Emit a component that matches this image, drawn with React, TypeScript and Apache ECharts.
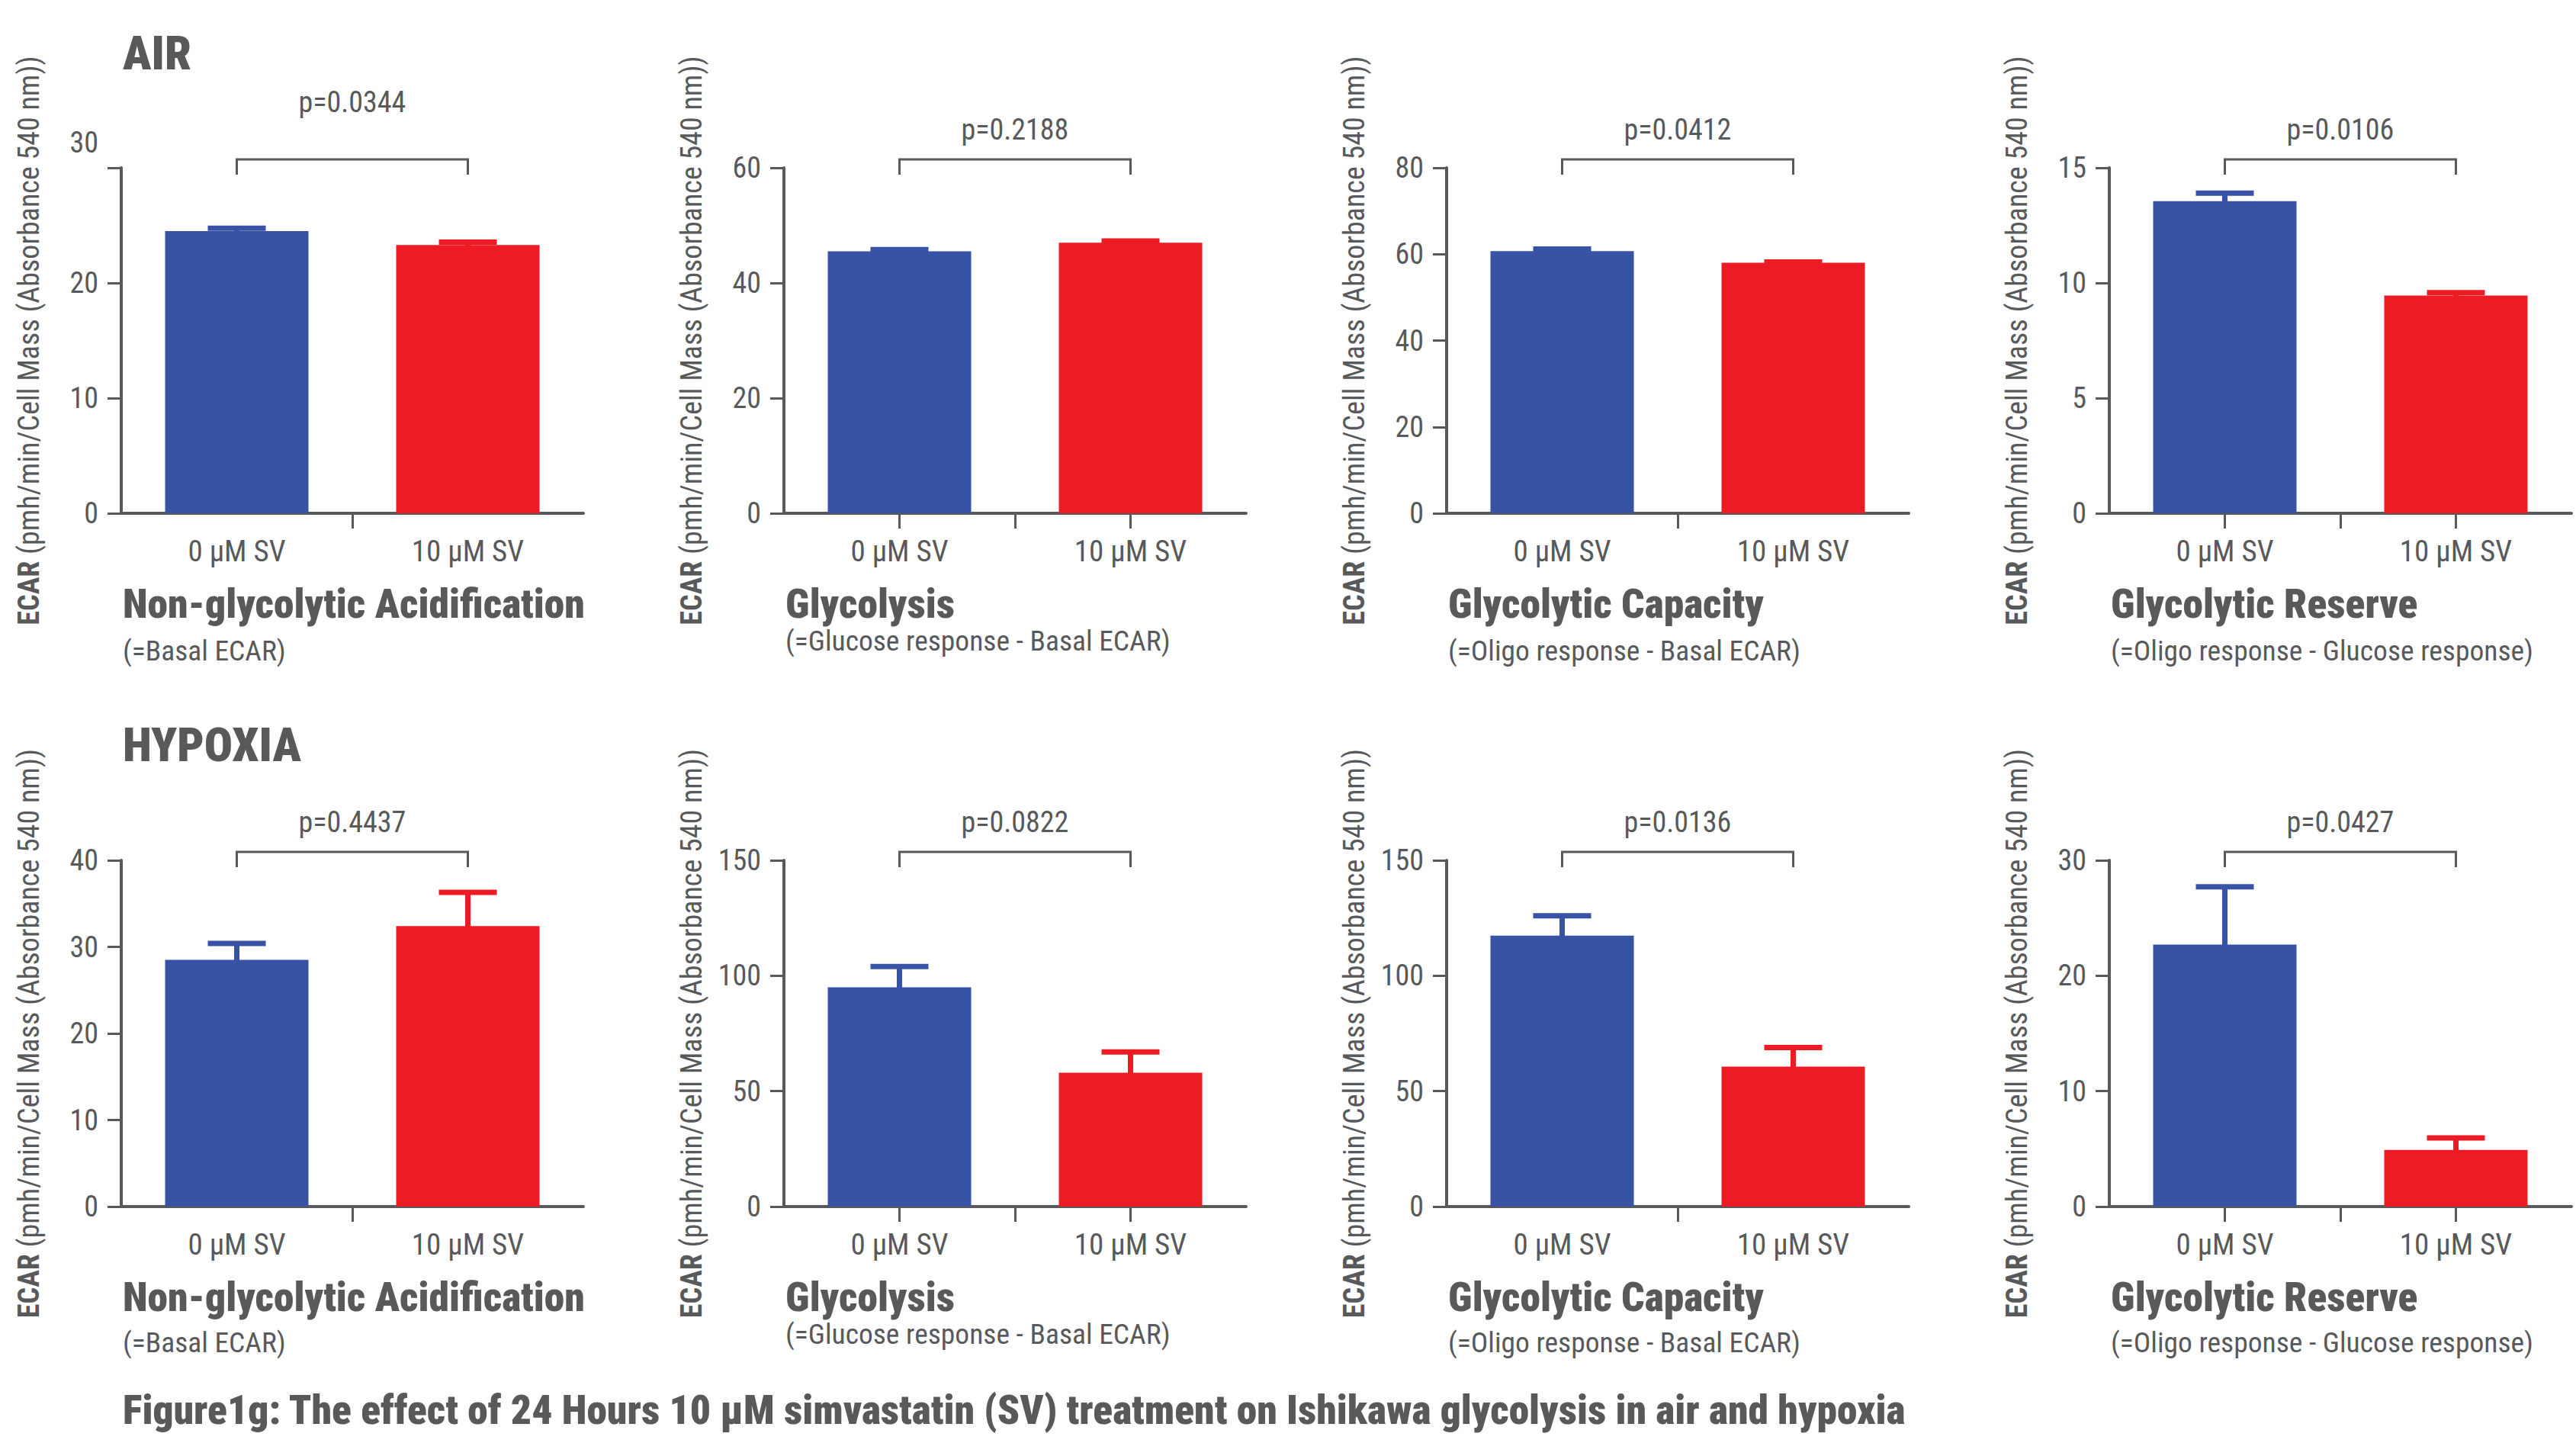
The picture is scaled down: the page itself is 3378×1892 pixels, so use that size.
import React, { useEffect, useRef } from 'react';
import * as echarts from 'echarts';

// ---------- data ----------
const categories = ['0 µM SV', '10 µM SV'];
const conditionLabels = ['AIR', 'HYPOXIA'];
const panelTitles = ['Non-glycolytic Acidification', 'Glycolysis', 'Glycolytic Capacity', 'Glycolytic Reserve'];
const panelSubtitles = [
  '(=Basal ECAR)',
  '(=Glucose response - Basal ECAR)',
  '(=Oligo response - Basal ECAR)',
  '(=Oligo response - Glucose response)',
];
const yAxisTitleBold = 'ECAR';
const yAxisTitleRest = ' (pmh/min/Cell Mass (Absorbance 540 nm))';
const caption = 'Figure1g: The effect of 24 Hours 10 µM simvastatin (SV) treatment on Ishikawa glycolysis in air and hypoxia';

// AIR row: [0 µM SV, 10 µM SV] per panel
const airMeans = [[24.5, 23.3], [45.5, 47.0], [60.7, 58.0], [13.55, 9.45]];
const airErrors = [[0.25, 0.25], [0.3, 0.28], [0.5, 0.2], [0.35, 0.13]];
const airPValues = ['p=0.0344', 'p=0.2188', 'p=0.0412', 'p=0.0106'];
const airYMax = [30, 60, 80, 15];
const airYInterval = [10, 20, 20, 5];

// HYPOXIA row
const hypoxiaMeans = [[28.5, 32.4], [95.0, 58.0], [117.4, 60.6], [22.7, 4.9]];
const hypoxiaErrors = [[1.9, 3.9], [9.0, 9.0], [8.6, 8.3], [5.0, 1.05]];
const hypoxiaPValues = ['p=0.4437', 'p=0.0822', 'p=0.0136', 'p=0.0427'];
const hypoxiaYMax = [40, 150, 150, 30];
const hypoxiaYInterval = [10, 50, 50, 10];

// ---------- styling / layout ----------
const FONT = "'Liberation Sans Narrow', 'Arial Narrow', 'Roboto Condensed', 'DejaVu Sans Condensed', 'Liberation Sans', sans-serif";
const GRAY = '#58595B';
const BAR_COLORS = ['#3953A4', '#ED1C24'];
const COL_LEFT = [159, 1028, 1897, 2766];
const ROW_TOP = [220, 1128];
const GRID_W = 606;
const GRID_H = [453, 454];
// which ticks on the x axis (positions on 5-slot helper axis: 1=center A, 2=middle, 3=center B)
const TICK_SLOTS = [
  [[2], [1, 2, 3], [2], [1, 2, 3]],
  [[2], [1, 2, 3], [2], [1, 2, 3]],
];
const TITLE_Y = [791, 1700];
const SUBTITLE_Y = [[853, 840, 853, 853], [1760, 1749, 1760, 1760]];
const P_GAP = [[75, 39, 39, 39], [39, 39, 39, 39]];
const SHIFT_TOP_LABEL = [[true, false, false, false], [false, false, false, false]];
const CONDITION_Y = [69, 976];

const rows = [
  { means: airMeans, errors: airErrors, p: airPValues, max: airYMax, interval: airYInterval },
  { means: hypoxiaMeans, errors: hypoxiaErrors, p: hypoxiaPValues, max: hypoxiaYMax, interval: hypoxiaYInterval },
];

function buildOption() {
  const grid: any[] = [];
  const xAxis: any[] = [];
  const yAxis: any[] = [];
  const series: any[] = [];
  const graphic: any[] = [];

  rows.forEach((row, r) => {
    for (let c = 0; c < 4; c++) {
      const gi = r * 4 + c;
      const max = row.max[c];
      const shift = SHIFT_TOP_LABEL[r][c];
      const slots = TICK_SLOTS[r][c];
      grid.push({ left: COL_LEFT[c], top: ROW_TOP[r], width: GRID_W, height: GRID_H[r], containLabel: false });

      xAxis.push({
        type: 'category',
        gridIndex: gi,
        data: categories,
        position: 'bottom',
        axisLine: { show: true, lineStyle: { color: GRAY, width: 4 } },
        axisTick: { show: false },
        axisLabel: { show: true, color: GRAY, fontSize: 39, fontFamily: FONT, margin: 30 },
        splitLine: { show: false },
      });
      xAxis.push({
        type: 'category',
        gridIndex: gi,
        data: ['', '', '', '', ''],
        boundaryGap: false,
        position: 'bottom',
        axisLine: { show: false },
        axisLabel: { show: false },
        axisTick: {
          show: true,
          length: 20,
          interval: (idx: number) => slots.indexOf(idx) >= 0,
          lineStyle: { color: GRAY, width: 3 },
        },
        splitLine: { show: false },
      });

      yAxis.push({
        type: 'value',
        gridIndex: gi,
        min: 0,
        max: max,
        interval: row.interval[c],
        axisLine: { show: true, lineStyle: { color: GRAY, width: 4 } },
        axisTick: { show: true, length: 18, lineStyle: { color: GRAY, width: 3 } },
        splitLine: { show: false },
        axisLabel: {
          color: GRAY,
          fontSize: 38,
          fontFamily: FONT,
          margin: 30,
          formatter: (v: number) => (shift && v === max ? '{up|' + v + '}' : String(v)),
          rich: { up: { padding: [0, 0, 66, 0], fontSize: 38, fontFamily: FONT, color: GRAY } },
        },
        name: '{b|' + yAxisTitleBold + '}' + yAxisTitleRest,
        nameLocation: 'middle',
        nameRotate: 90,
        nameGap: 102,
        nameTextStyle: {
          color: GRAY,
          fontSize: 38,
          fontFamily: FONT,
          rich: { b: { fontWeight: 'bold', fontSize: 38, fontFamily: FONT, color: GRAY } },
        },
      });

      series.push({
        type: 'bar',
        xAxisIndex: gi * 2,
        yAxisIndex: gi,
        barWidth: 188,
        data: row.means[c].map((v, i) => ({ value: v, itemStyle: { color: BAR_COLORS[i] } })),
        z: 3,
      });

      const errs = row.errors[c];
      series.push({
        type: 'custom',
        xAxisIndex: gi * 2,
        yAxisIndex: gi,
        clip: false,
        z: 2,
        encode: { x: 0, y: 1 },
        data: row.means[c].map((v, i) => [i, v, errs[i]]),
        renderItem: (params: any, api: any) => {
          const idx = api.value(0);
          const v = api.value(1);
          const e = api.value(2);
          const base = api.coord([idx, v]);
          const top = api.coord([idx, v + e]);
          const color = BAR_COLORS[idx];
          return {
            type: 'group',
            children: [
              { type: 'line', shape: { x1: base[0], y1: base[1] + 4, x2: top[0], y2: top[1] }, style: { stroke: color, lineWidth: 7 } },
              { type: 'line', shape: { x1: top[0] - 38, y1: top[1], x2: top[0] + 38, y2: top[1] }, style: { stroke: color, lineWidth: 7 } },
            ],
          };
        },
      });

      const pText = row.p[c];
      const pGap = P_GAP[r][c];
      series.push({
        type: 'custom',
        xAxisIndex: gi * 2,
        yAxisIndex: gi,
        clip: false,
        z: 4,
        encode: { x: 0, y: 1 },
        data: [[0, max]],
        renderItem: (params: any, api: any) => {
          const a = api.coord([0, max]);
          const b = api.coord([1, max]);
          const yTop = a[1];
          return {
            type: 'group',
            children: [
              {
                type: 'polyline',
                shape: { points: [[a[0], yTop + 9], [a[0], yTop - 11], [b[0], yTop - 11], [b[0], yTop + 9]] },
                style: { stroke: GRAY, lineWidth: 3, fill: null },
              },
              {
                type: 'text',
                style: {
                  text: pText,
                  x: (a[0] + b[0]) / 2,
                  y: yTop - 11 - pGap,
                  align: 'center',
                  verticalAlign: 'middle',
                  fontSize: 38,
                  fontFamily: FONT,
                  fill: GRAY,
                },
              },
            ],
          };
        },
      });

      graphic.push({
        type: 'text',
        x: COL_LEFT[c] + 2,
        y: TITLE_Y[r],
        style: { text: panelTitles[c], fontSize: 53.5, fontWeight: 900, fontFamily: FONT, fill: GRAY, verticalAlign: 'middle', align: 'left' },
      });
      graphic.push({
        type: 'text',
        x: COL_LEFT[c] + 2,
        y: SUBTITLE_Y[r][c],
        style: { text: panelSubtitles[c], fontSize: 37.5, fontFamily: FONT, fill: GRAY, verticalAlign: 'middle', align: 'left' },
      });
    }
    graphic.push({
      type: 'text',
      x: 161,
      y: CONDITION_Y[r],
      style: { text: conditionLabels[r], fontSize: 62, fontWeight: 900, fontFamily: FONT, fill: GRAY, verticalAlign: 'middle', align: 'left' },
    });
  });

  graphic.push({
    type: 'text',
    x: 161,
    y: 1848,
    style: { text: caption, fontSize: 53.5, fontWeight: 900, fontFamily: FONT, fill: GRAY, verticalAlign: 'middle', align: 'left' },
  });

  return {
    animation: false,
    backgroundColor: '#FFFFFF',
    grid,
    xAxis,
    yAxis,
    series,
    graphic,
  };
}

export default function App() {
  const ref = useRef<HTMLDivElement>(null);
  useEffect(() => {
    document.body.style.margin = '0';
    document.body.style.overflow = 'hidden';
    if (!ref.current) return;
    const chart = echarts.init(ref.current, undefined, { renderer: 'svg' });
    chart.setOption(buildOption() as any);
    return () => chart.dispose();
  }, []);
  return <div ref={ref} style={{ width: 3378, height: 1892, position: 'absolute', left: 0, top: 0 }} />;
}
